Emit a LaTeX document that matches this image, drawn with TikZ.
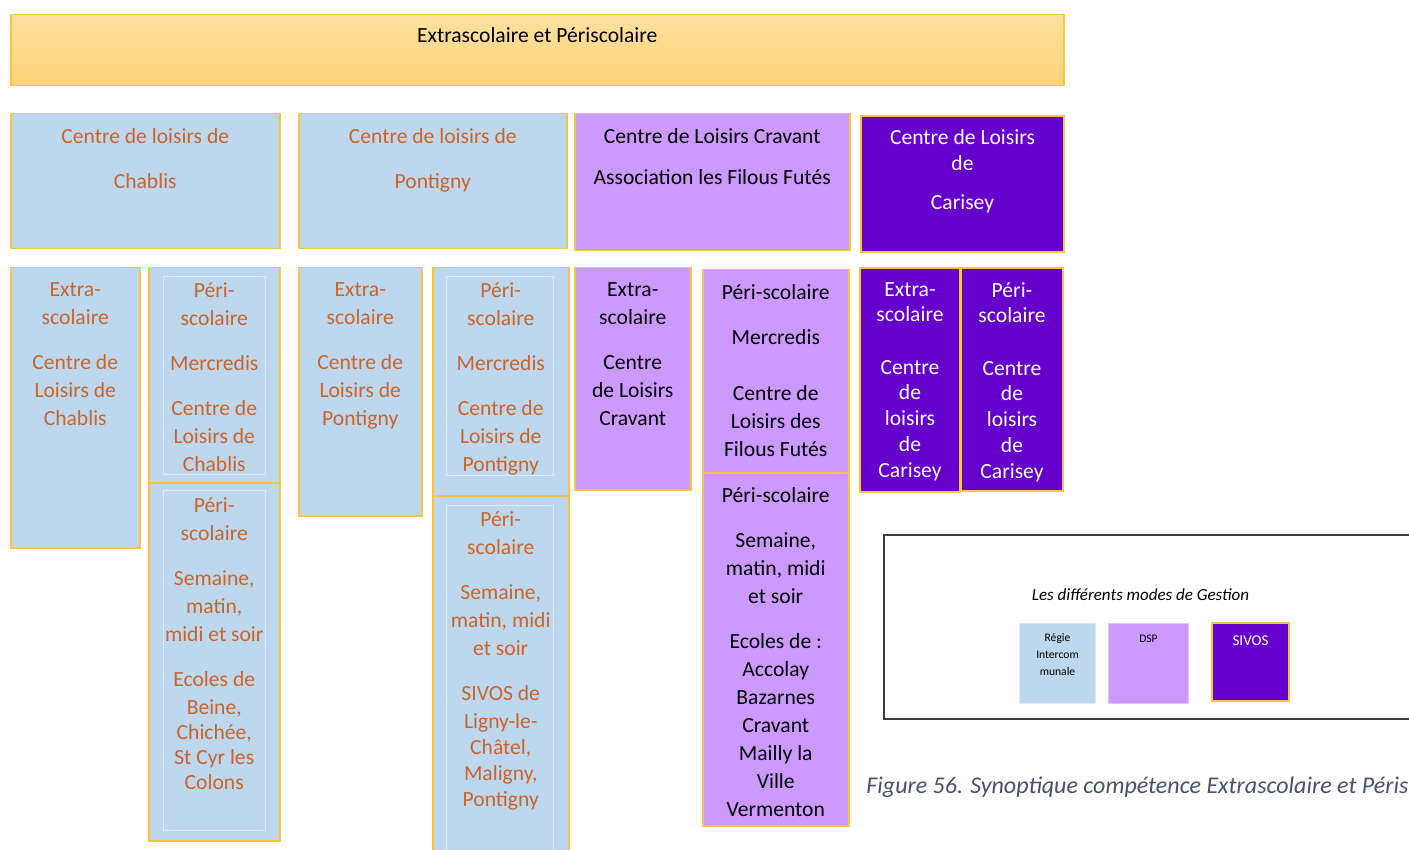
\documentclass[tikz,border=0pt]{standalone}
\usepackage{fontspec}
\setmainfont{Carlito}
\usepackage{xcolor}
\usetikzlibrary{positioning}
\definecolor{cBlue}{RGB}{189,215,238}
\definecolor{cLilac}{RGB}{204,153,255}
\definecolor{cViolet}{RGB}{102,0,204}
\definecolor{cGold}{RGB}{250,196,60}
\definecolor{cRust}{RGB}{204,100,40}
\definecolor{cSlate}{RGB}{68,84,106}
\definecolor{cFrame}{RGB}{60,60,60}
\definecolor{cBannerTop}{RGB}{254,225,160}
\definecolor{cBannerBot}{RGB}{255,210,122}
\tikzset{
	box/.style 2 args={rectangle, anchor=north west, inner sep=0pt, minimum width=#1*0.5pt, minimum height=#2*0.5pt},
	regie/.style ={draw=cGold, line width=0.75pt, fill=cBlue},
	dsp/.style   ={draw=cGold, line width=0.75pt, fill=cLilac},
	sivos/.style ={draw=cGold, line width=1pt, fill=cViolet},
	innerbox/.style={draw=white!50!cBlue, line width=0.5pt},
	% texts of the cells
	txt/.style   ={anchor=north, align=center, inner sep=0pt, font=\fontsize{10.8}{14}\selectfont, execute at begin node=\strut},
	keytxt/.style={txt, font=\fontsize{5.8}{8.5}\selectfont},
}

\begin{document}
\begin{tikzpicture}[x=0.5pt, y=-0.5pt]
	\clip (0,0) rectangle (1409,850);
	\node[box={1053}{71}, draw=cGold, line width=0.75pt, top color=cBannerTop, bottom color=cBannerBot] (banner) at (10,14) {};
	\node[txt, below=4.4pt of banner.north] (banner-t) {Extrascolaire et Périscolaire};

	% structures
	\node[box={269}{135}, regie] (chablis) at (10,113) {};
	\node[box={268}{135}, regie] (pontigny) at (298,113) {};
	\node[box={275}{137}, dsp] (cravant) at (574,113) {};
	\node[box={203}{136}, sivos] (carisey) at (860,115) {};
	\node[txt, text=cRust, below=7.5pt of chablis.north] (chablis-t) {Centre de loisirs de\\[8.5pt]Chablis};
	\node[txt, text=cRust, below=7.5pt of pontigny.north] (pontigny-t) {Centre de loisirs de\\[8.5pt]Pontigny};
	\node[txt, below=7.5pt of cravant.north] (cravant-t) {Centre de Loisirs Cravant\\[6.5pt]Association les Filous Futés};
	\node[txt, text=white, below=7.3pt of carisey.north] (carisey-t) {Centre de Loisirs\\[-1pt]de\\[5.5pt]Carisey};

	% Chablis
	\node[box={129}{280}, regie] (chablis-extra) at (10,267) {};
	\node[box={131}{215}, regie] (chablis-mer) at (148,267) {};
	\node[box={131}{358}, regie] (chablis-sem) at (148,482) {};
	\draw[innerbox] (163,277) rectangle (265,474);
	\draw[innerbox] (163,490) rectangle (265,830);
	\node[txt, text=cRust, below=7.5pt of chablis-extra.north] (chablis-extra-t) {Extra-\\scolaire\\[8.5pt]Centre de\\Loisirs de\\Chablis};
	\node[txt, text=cRust, below=7.5pt of chablis-mer.north] (chablis-mer-t) {Péri-\\scolaire\\[8.5pt]Mercredis\\[8.5pt]Centre de\\Loisirs de\\Chablis};
	\node[txt, text=cRust, below=7.5pt of chablis-sem.north] (chablis-sem-t) {Péri-\\scolaire\\[8.5pt]Semaine,\\matin,\\midi et soir\\[8.5pt]Ecoles de\\Beine,\\[-1.5pt]Chichée,\\[-1.5pt]St Cyr les\\[-1.5pt]Colons};

	% Pontigny
	\node[box={123}{248}, regie] (pontigny-extra) at (298,267) {};
	\node[box={136}{228}, regie] (pontigny-mer) at (432,267) {};
	\node[box={136}{380}, regie] (pontigny-sem) at (432,495) {};
	\draw[innerbox] (446,277) rectangle (553,475);
	\draw[innerbox] (446,505) rectangle (553,870);
	\node[txt, text=cRust, below=7.5pt of pontigny-extra.north] (pontigny-extra-t) {Extra-\\scolaire\\[8.5pt]Centre de\\Loisirs de\\Pontigny};
	\node[txt, text=cRust, below=7.5pt of pontigny-mer.north] (pontigny-mer-t) {Péri-\\scolaire\\[8.5pt]Mercredis\\[8.5pt]Centre de\\Loisirs de\\Pontigny};
	\node[txt, text=cRust, below=8pt of pontigny-sem.north] (pontigny-sem-t) {Péri-\\scolaire\\[8.5pt]Semaine,\\matin, midi\\et soir\\[8.5pt]SIVOS de\\Ligny-le-\\[-1pt]Châtel,\\[-1pt]Maligny,\\[-1pt]Pontigny};

	% Cravant
	\node[box={116}{222}, dsp] (cravant-extra) at (574,267) {};
	\node[box={146}{203}, dsp] (cravant-mer) at (702,269) {};
	\node[box={146}{353}, dsp] (cravant-sem) at (702,472) {};
	\node[txt, below=7.5pt of cravant-extra.north] (cravant-extra-t) {Extra-\\scolaire\\[8.5pt]Centre\\de Loisirs\\Cravant};
	\node[txt, below=7.5pt of cravant-mer.north] (cravant-mer-t) {Péri-scolaire\\[8.5pt]Mercredis\\[14pt]Centre de\\Loisirs des\\Filous Futés};
	\node[txt, below=7.5pt of cravant-sem.north] (cravant-sem-t) {Péri-scolaire\\[8.5pt]Semaine,\\matin, midi\\et soir\\[8.5pt]Ecoles de :\\Accolay\\Bazarnes\\Cravant\\Mailly la\\Ville\\Vermenton};

	% Carisey
	\node[box={100}{224}, sivos] (carisey-extra) at (859,267) {};
	\node[box={102}{223}, sivos] (carisey-peri) at (960,267) {};
	\node[txt, text=white, below=7.5pt of carisey-extra.north] (carisey-extra-t) {Extra-\\[-1.5pt]scolaire\\[12.5pt]Centre\\[-1.5pt]de\\[-1pt]loisirs\\[-1pt]de\\[-1pt]Carisey};
	\node[txt, text=white, below=7.5pt of carisey-peri.north] (carisey-peri-t) {Péri-\\[-1.5pt]scolaire\\[12.5pt]Centre\\[-1.5pt]de\\[-1pt]loisirs\\[-1pt]de\\[-1pt]Carisey};

	% legend
	\node[box={560}{184}, draw=cFrame, line width=0.75pt] (legend) at (883,534) {};
	\node[font=\fontsize{8.5}{10}\selectfont\itshape, inner sep=0pt] (legend-t) at (1140.5,595) {Les différents modes de Gestion};
	\node[box={76}{80}, fill=cBlue, draw=white!40!cBlue, line width=0.5pt] (key-regie) at (1019,623) {};
	\node[box={80}{80}, fill=cLilac, draw=white!40!cLilac, line width=0.5pt] (key-dsp) at (1108,623) {};
	\node[box={77}{78}, sivos] (key-sivos) at (1211,622) {};
	\node[keytxt, below=5.3pt of key-regie.north] (key-regie-t) {Régie\\Intercom\\munale};
	\node[keytxt, below=3.5pt of key-dsp.north] (key-dsp-t) {DSP};
	\node[txt, text=white, font=\fontsize{7.5}{9}\selectfont, below=5.1pt of key-sivos.north] (key-sivos-t) {SIVOS};

	\node[anchor=west, inner sep=0pt, text=cSlate, font=\fontsize{12}{14}\selectfont\itshape] (caption) at (866,787) {Figure 56. Synoptique compétence Extrascolaire et Péris};
\end{tikzpicture}
\end{document}
